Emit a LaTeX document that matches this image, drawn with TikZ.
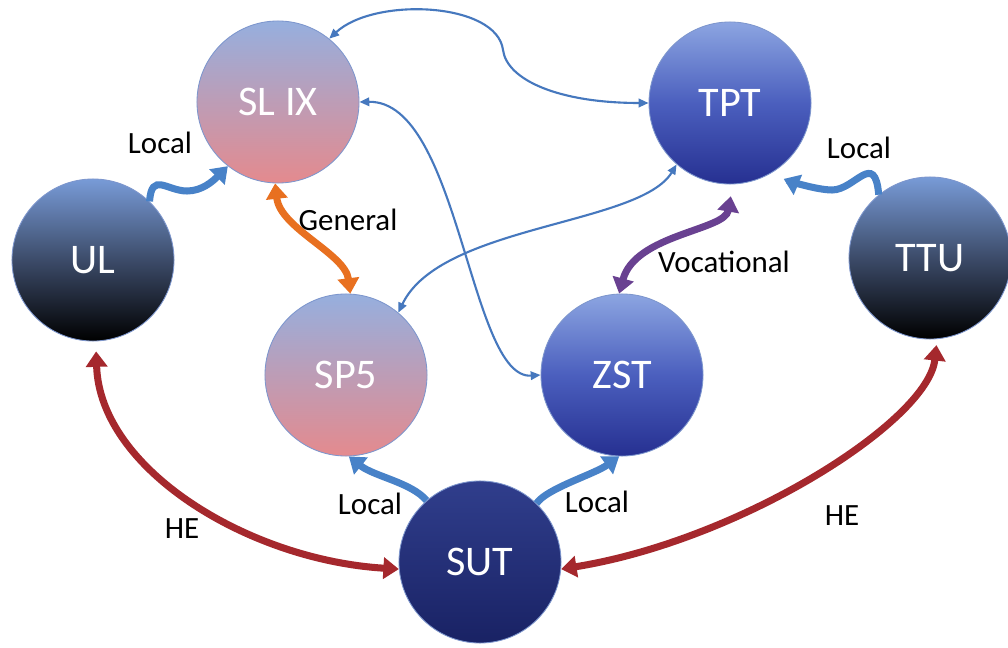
\documentclass[tikz,border=0pt]{standalone}
\usepackage{fontspec}
\setmainfont{Carlito}
\usetikzlibrary{arrows.meta}

\definecolor{rimBlue}{RGB}{125,150,205}
\definecolor{pinkTop}{RGB}{150,175,222}
\definecolor{pinkBot}{RGB}{228,138,142}
\definecolor{blueTop}{RGB}{140,165,225}
\definecolor{blueMid}{RGB}{75,95,190}
\definecolor{blueBot}{RGB}{38,48,145}
\definecolor{navyTop}{RGB}{48,62,140}
\definecolor{navyBot}{RGB}{25,34,100}
\definecolor{darkTop}{RGB}{120,155,215}
\definecolor{darkMid}{RGB}{60,75,105}
\definecolor{linkBlue}{RGB}{70,120,190}
\definecolor{localBlue}{RGB}{72,130,200}
\definecolor{generalOrange}{RGB}{232,112,32}
\definecolor{vocPurple}{RGB}{105,65,145}
\definecolor{heRed}{RGB}{165,40,45}

\tikzstyle{capCircle} = [circle, minimum size=4.05cm, draw=rimBlue, line width=0.6pt, text=white, font=\fontsize{30}{36}\selectfont]
\tikzstyle{pinkNode} = [capCircle, top color=pinkTop, bottom color=pinkBot]
\tikzstyle{blueNode} = [capCircle, top color=blueTop, bottom color=blueBot, middle color=blueMid]
\tikzstyle{navyNode} = [capCircle, top color=navyTop, bottom color=navyBot]
\tikzstyle{darkNode} = [capCircle, top color=darkTop, bottom color=black, middle color=darkMid]
\tikzstyle{linkLabel} = [font=\fontsize{22}{26}\selectfont, text=black]
\tikzstyle{thinLink} = [draw=linkBlue, line width=1.5pt, {Triangle[length=7pt,width=6pt]}-{Triangle[length=7pt,width=6pt]}]
\tikzstyle{localArrow} = [draw=localBlue, line width=5pt, -{Triangle[length=11pt,width=15pt]}]
\tikzstyle{bothArrow} = [line width=5pt, {Triangle[length=11pt,width=15pt]}-{Triangle[length=11pt,width=15pt]}]

\begin{document}
\begin{tikzpicture}[x=0.025cm, y=-0.025cm]
    \useasboundingbox (0,0) rectangle (1008,648);
    \fill[white] (0,0) rectangle (1008,648);

    \node (sl_ix)[pinkNode] at (278,102) {SL IX};
    \node (tpt)[blueNode] at (730,103) {TPT};
    \node (ul)[darkNode] at (93,260) {UL};
    \node (ttu)[darkNode] at (930,258) {TTU};
    \node (sp5)[pinkNode] at (346,375) {SP5};
    \node (zst)[blueNode] at (622,375) {ZST};
    \node (sut)[navyNode] at (480,562) {SUT};

    \draw [thinLink] (sl_ix.51) .. controls +(45,-42) and +(-6,-48) .. (503,50) .. controls +(4,30) and +(-90,0) .. (tpt.180);
    \draw [thinLink] (sl_ix.0) .. controls +(100,-2) and +(-71,5) .. (zst.180);
    \draw [thinLink] (tpt.229) .. controls +(-37,61) and +(42,-88) .. (sp5.50);

    \draw [localArrow] (ul.46) .. controls +(2,-30) and +(-20,0) .. (187,191) .. controls +(15,0) and +(-15,15) .. (sl_ix.232);
    \draw [localArrow, shorten >=0.35cm] (ttu.129) .. controls +(-4,-45) and +(23,0) .. (832,190) .. controls +(-17,0) and +(12,5) .. (tpt.300);
    \draw [localArrow] (sut.131) .. controls +(-15,-18) and +(25,20) .. (sp5.272);
    \draw [localArrow] (sut.46) .. controls +(10,-15) and +(-25,18) .. (zst.268);

    \draw [bothArrow, draw=generalOrange] (sl_ix.268) .. controls +(5,45) and +(-5,-40) .. (sp5.87);
    \draw [bothArrow, draw=vocPurple, shorten <=0.3cm] (tpt.272) .. controls +(-8,46) and +(16,-59) .. (zst.92);
    \draw [bothArrow, draw=heRed, shorten <=0.25cm] (ul.272) .. controls +(4,128) and +(-150,-9) .. (sut.185);
    \draw [bothArrow, draw=heRed, shorten <=0.15cm] (ttu.275) .. controls +(-9,82) and +(180,-29) .. (sut.355);

    \node (l_ul)[linkLabel] at (160,143) {Local};
    \node (l_general)[linkLabel] at (348,220) {General};
    \node (l_voc)[linkLabel] at (724,262) {Vocational};
    \node (l_ttu)[linkLabel] at (859,148) {Local};
    \node (l_sp5)[linkLabel] at (370,504) {Local};
    \node (l_zst)[linkLabel] at (597,502) {Local};
    \node (he_ul)[linkLabel] at (182,529) {HE};
    \node (he_ttu)[linkLabel] at (842,516) {HE};
\end{tikzpicture}
\end{document}
